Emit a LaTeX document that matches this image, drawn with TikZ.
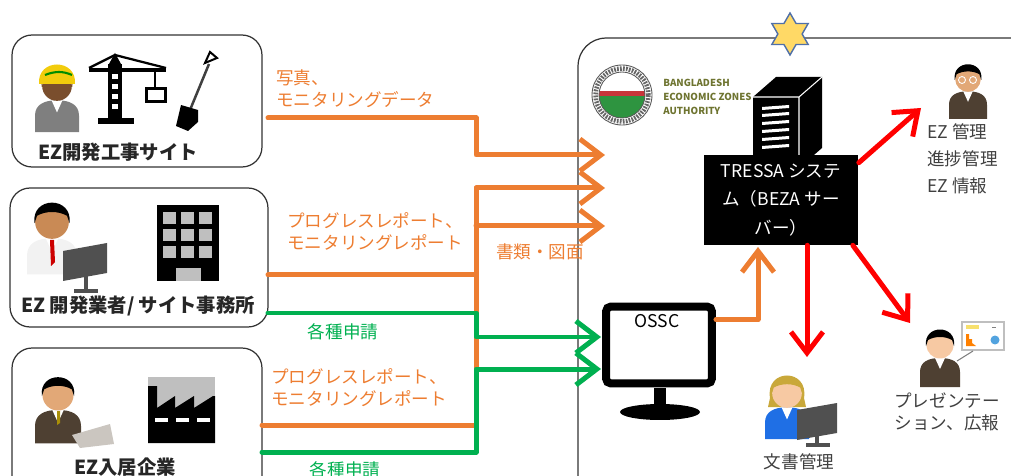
\documentclass[tikz,border=0pt]{standalone}
\usepackage{fontspec}
\setmainfont{Noto Sans CJK JP}
\usetikzlibrary{arrows.meta,shapes.geometric,calc}

\definecolor{flowor}{HTML}{ED7D31}
\definecolor{flowgr}{HTML}{00B050}
\definecolor{flowrd}{HTML}{FF0000}
\definecolor{labelgray}{HTML}{404040}
\definecolor{starfill}{HTML}{FFD966}
\definecolor{stardraw}{HTML}{4F6FA8}
\definecolor{helmet}{HTML}{F2CC0C}
\definecolor{skinbrown}{HTML}{7A4E2D}
\definecolor{skintan}{HTML}{C98A55}
\definecolor{skinlight}{HTML}{E2A877}
\definecolor{skinpale}{HTML}{F7C9A3}
\definecolor{suitbrown}{HTML}{4E4032}
\definecolor{shirtgray}{HTML}{7F7F7F}
\definecolor{shirtblue}{HTML}{1F6FE5}
\definecolor{blonde}{HTML}{C9A83A}
\definecolor{monitorgray}{HTML}{505050}
\definecolor{wingray}{HTML}{BFBFBF}
\definecolor{laptop}{HTML}{CBC6C0}
\definecolor{sealgreen}{HTML}{2E9440}
\definecolor{sealred}{HTML}{C8353A}
\definecolor{olive}{HTML}{6E7430}

\tikzset{
  panel/.style={draw=black!80, line width=0.7pt, rounded corners=0.4cm, inner sep=0pt},
  flow/.style={line width=0.1cm, line join=round, line cap=round},
  tip/.style={-{Straight Barb[length=0.42cm,width=0.64cm]}},
  oflow/.style={flow, draw=flowor},
  gflow/.style={flow, draw=flowgr},
  rflow/.style={flow, draw=flowrd, tip},
  note/.style={font=\fontsize{10}{12.5}\selectfont, inner sep=0pt, align=left},
  boxlabel/.style={font=\bfseries\fontsize{11}{13}\selectfont, text=black!85, inner sep=0pt},
  sysbox/.style={fill=black, text=white, minimum width=3.1cm, minimum height=1.8cm,
    align=center, inner sep=0pt, font=\fontsize{10}{16}\selectfont},
  skin/.store in=\skinc, hair/.store in=\hairc, suit/.store in=\suitc,
  skin=skintan, hair=black, suit=suitbrown,
  figure/.pic={
    \fill[\suitc] (-20,42) -- (-20,27) .. controls (-20,17) and (-12,13) .. (0,13)
      .. controls (12,13) and (20,17) .. (20,27) -- (20,42) -- cycle;
    \fill[white] (-5,13) -- (5,13) -- (0,24) -- cycle;
    \fill[\skinc] (0,0) circle (0.27cm);
    \fill[\hairc] (-14,1) .. controls (-17,-21) and (17,-21) .. (14,1) -- (12,-5)
      .. controls (5,-9) and (-5,-9) .. (-12,-5) -- cycle;
  },
}

\begin{document}
\begin{tikzpicture}[x=0.02cm, y=-0.02cm]
\useasboundingbox (0,0) rectangle (1011,476);

% the three parties on the left and the BEZA side
\node[panel, minimum width=5cm, minimum height=2.64cm] (site) at (137,101) {};
\node[panel, minimum width=5.16cm, minimum height=2.78cm] (dev) at (139,257.5) {};
\node[panel, minimum width=5cm, minimum height=3.04cm] (tenant) at (137,424) {};
\node[panel, rounded corners=0.56cm, minimum width=9.24cm, minimum height=9.64cm] (beza) at (809,279) {};
\node[star, star points=6, star point ratio=1.73, minimum size=0.84cm, inner sep=0pt,
  fill=starfill, draw=stardraw, line width=0.8pt] (star) at (790,34) {};

% construction site: worker, crane, shovel
\pic[scale=1.1, skin=skinbrown, hair=skinbrown, suit=shirtgray] (worker) at (57,86) {figure};
\fill[helmet] (39,84) .. controls (37,58) and (77,58) .. (75,84) -- cycle;
\draw[green!55!black, line width=1.2pt] (45,75) .. controls (55,71) and (63,71) .. (72,75);
\fill (98,118) rectangle (134,124);
\fill (108,64) rectangle (122,118);
\foreach \y in {74,84,94,104} \fill[white] (112,\y) rectangle (118,\y+5);
\fill (115,53) -- (109,64) -- (121,64) -- cycle;
\draw[line width=0.07cm] (89,70) -- (166,70);
\draw[line width=0.045cm] (89,68) -- (115,55) -- (166,68);
\draw[line width=0.05cm] (155,70) -- (155,89);
\draw[line width=0.06cm, fill=white] (146,89) rectangle (165,102);
\draw[line width=0.05cm, black!75] (209,64) -- (190,110);
\draw[line width=0.04cm] (205,63) -- (210,52) -- (217,58) -- cycle;
\fill (181,105) -- (198,110) -- (198,122) -- (188,131) -- (176,126) -- cycle;
\node[boxlabel] (sitename) at (118,152) {EZ開発工事サイト};

% developer office
\pic[scale=1.25, skin=skintan, hair=black, suit=white!95!black] (clerk) at (52,222) {figure};
\fill[red!80!black] (50,240) -- (54,240) -- (55,262) -- (51,266) -- cycle;
\fill[monitorgray] (63,251) -- (107,243) -- (107,273) -- (63,281) -- cycle;
\fill[monitorgray] (84,276) rectangle (88,290);
\fill[monitorgray] (74,289) rectangle (98,293);
\fill (157,205) rectangle (219,281);
\foreach \cx in {163,181,199}
  \foreach \cy in {212,229,246}
    \fill[wingray] (\cx,\cy) rectangle ++(13,12);
\fill[wingray] (176,268) rectangle (201,281);
\node[boxlabel] (devname) at (138,306) {EZ 開発業者/ サイト事務所};

% tenant company
\pic[scale=1.15, skin=skinlight, hair=black, suit=suitbrown] (tenantman) at (58,395) {figure};
\fill[helmet!70!black] (57,411) -- (60,411) -- (60,423) -- (57,425) -- cycle;
\fill[laptop] (72,435) -- (110,424) -- (114,444) -- (80,448) -- cycle;
\fill[wingray] (148,377) rectangle (215,443);
\fill (148,443) -- (148,386) -- (157,386) -- (157,408) -- (175,396) -- (175,408)
  -- (194,396) -- (194,408) -- (213,396) -- (215,396) -- (215,443) -- cycle;
\foreach \dx in {155,176,197} \fill[white] (\dx,418) rectangle ++(13,4);
\node[boxlabel] (tenantname) at (125,467) {EZ入居企業};

% BEZA seal and name
\coordinate (seal) at (622,95);
\fill[white] (seal) circle (0.6cm);
\begin{scope}
  \clip (seal) circle (0.46cm);
  \fill[sealgreen] (590,96) rectangle (655,130);
  \fill[sealred] (590,91) rectangle (655,96);
\end{scope}
\draw[black!60, line width=0.09cm, dash pattern=on 1pt off 0.7pt] (seal) circle (0.53cm);
\draw[black!65, line width=0.5pt] (seal) circle (0.6cm) (seal) circle (0.46cm);
\node[anchor=west, inner sep=0pt, align=left, text=olive,
  font=\bfseries\fontsize{5.5}{8}\selectfont] (bezaname) at (663,97)
  {BANGLADESH\\ECONOMIC ZONES\\AUTHORITY};

% server tower behind the system box
\fill (753,97) -- (776,77) -- (822,77) -- (822,148) -- (799,168) -- (753,168) -- cycle;
\draw[white, line width=0.6pt] (753,97) -- (799,97) -- (822,77) (799,97) -- (799,168);
\foreach \y in {107,114,122,130,138,146}
  \fill[white] (762,\y) -- (789,\y-2) -- (789,\y+1) -- (762,\y+3) -- cycle;

\node[sysbox] (tressa) at (781,200) {TRESSA システ\\ム（BEZA サー\\バー）};

% OSSC terminal
\node[draw=black, line width=0.16cm, rounded corners=0.1cm, fill=white,
  minimum width=2.12cm, minimum height=1.54cm, inner sep=0pt] (ossc) at (659,345) {};
\fill (654,388) rectangle (666,405);
\fill (660,412) ellipse (0.8cm and 0.16cm);
\node[inner sep=0pt, font=\fontsize{10}{12}\selectfont] (ossctext) at (657,321) {OSSC};

% users on the BEZA side
\pic[scale=0.95, skin=skinlight, hair=black, suit=suitbrown] (manager) at (968,79) {figure};
\draw[white, line width=0.5pt] (962,80) circle (0.07cm) (973,80) circle (0.07cm);
\node[note, text=labelgray, font=\fontsize{10}{15.3}\selectfont] (mgmt) at (927,159)
  [anchor=west] {EZ 管理\\進捗管理\\EZ 情報};

\fill[blonde] (770,398) .. controls (765,368) and (809,368) .. (804,398) -- (806,407) -- (768,407) -- cycle;
\pic[scale=1.1, skin=skinpale, hair=blonde, suit=shirtblue] (archivist) at (787,393) {figure};
\fill[monitorgray] (797,410) -- (837,403) -- (837,433) -- (797,440) -- cycle;
\fill[monitorgray] (815,434) rectangle (819,444);
\fill[monitorgray] (806,443) rectangle (830,447);
\node[note, text=labelgray] (docs) at (799,462) {文書管理};

\pic[scale=1.0, skin=skinpale, hair=black, suit=suitbrown] (presenter) at (940,345) {figure};
\draw[black!25, line width=0.8pt, fill=white] (962,322) rectangle (1004,350);
\fill[helmet!60] (966,325) rectangle (979,329);
\fill[orange] (966,346) -- (966,334) -- (969,334) -- (969,339) -- (972,339) -- (972,343) -- (976,346) -- cycle;
\fill[cyan!70!blue!70] (995,340) circle (0.09cm);
\draw[black!50, line width=0.5pt] (992,327) -- (996,327);
\draw[black!50, line width=0.6pt] (957,361) -- (973,351);
\node[note, align=center, text=labelgray] (pr) at (947,412) {プレゼンテー\\ション、広報};

% flows into BEZA
\coordinate (bus) at (476,0);
\coordinate (o1) at (268,118);
\coordinate (o2) at (268,275);
\coordinate (o3) at (262,425);
\coordinate (t1) at (605,155);
\coordinate (t2) at (605,188);
\coordinate (t3) at (605,226);
\draw[oflow, tip] (o1) -| (t1 -| bus) -- (t1);
\draw[oflow, tip] (o2) -| (t2 -| bus) -- (t2);
\draw[oflow] (o3) -| (t2 -| bus);
\draw[oflow, tip] (t3 -| bus) -- (t3);

\coordinate (g1) at (268,313);
\coordinate (g2) at (262,452);
\coordinate (s1) at (601,337);
\coordinate (s2) at (601,369);
\draw[gflow, tip] (g1) -| (s1 -| bus) -- (s1);
\draw[gflow, tip] (g2) -| (s2 -| bus) -- (s2);

\coordinate (up) at (758,247);
\draw[oflow, tip] ($(ossc.north east)+(0,17)$) -| (up);

% flows out of the system
\coordinate (mgrtip) at (921,108);
\coordinate (doctip) at (807,357);
\coordinate (prtip) at (910,323);
\draw[rflow] ($(tressa.north east)+(0,8)$) -- (mgrtip);
\draw[rflow] (tressa.south -| doctip) -- (doctip);
\draw[rflow] ($(tressa.south east)+(-6,0)$) -- (prtip);

% flow labels
\node[note, text=flowor, anchor=west] (photo) at (276,89) {写真、\\モニタリングデータ};
\node[note, text=flowor, anchor=west] (devrep) at (287,232) {プログレスレポート、\\モニタリングレポート};
\node[note, text=flowor, anchor=west] (tenrep) at (271,388) {プログレスレポート、\\モニタリングレポート};
\node[note, text=flowor] (papers) at (540,252) {書類・図面};
\node[note, text=flowgr] (req1) at (343,332) {各種申請};
\node[note, text=flowgr] (req2) at (345,470) {各種申請};
\end{tikzpicture}
\end{document}
